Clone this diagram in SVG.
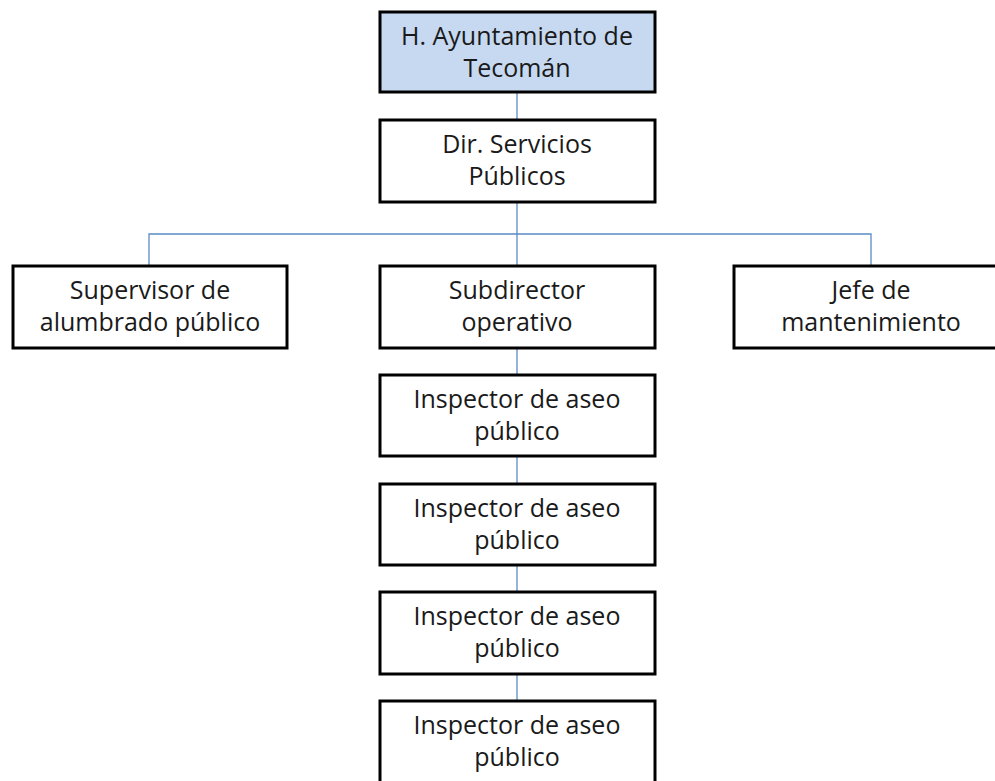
<svg xmlns="http://www.w3.org/2000/svg" width="995" height="781" viewBox="0 0 995 781">
<style>
.box{fill:#ffffff;stroke:#000000;stroke-width:3}
.top{fill:#c6d9f1}
.t{font-family:"Open Sans","Liberation Sans",sans-serif;font-size:25px;fill:#1a1a1a;text-anchor:middle}
.c{stroke:#5b8bc6;stroke-width:1.3;fill:none}
</style>
<rect width="995" height="781" fill="#ffffff"/>
<g id="connectors">
<line class="c" x1="517" y1="92" x2="517" y2="120"/>
<line class="c" x1="517" y1="202" x2="517" y2="266"/>
<polyline class="c" points="149,266 149,234 871,234 871,266"/>
<line class="c" x1="517" y1="348" x2="517" y2="375"/>
<line class="c" x1="517" y1="456" x2="517" y2="484"/>
<line class="c" x1="517" y1="565" x2="517" y2="592"/>
<line class="c" x1="517" y1="674" x2="517" y2="701"/>
</g>
<g id="n_ayuntamiento">
<rect class="box top" x="380" y="12" width="275" height="80"/>
<text class="t" x="517" y="45">H. Ayuntamiento de</text>
<text class="t" x="517" y="77">Tecomán</text>
</g>
<g id="n_dir">
<rect class="box" x="380" y="120" width="275" height="82"/>
<text class="t" x="517" y="153">Dir. Servicios</text>
<text class="t" x="517" y="185">Públicos</text>
</g>
<g id="n_supervisor">
<rect class="box" x="13" y="266" width="274" height="82"/>
<text class="t" x="150" y="299">Supervisor de</text>
<text class="t" x="150" y="331">alumbrado público</text>
</g>
<g id="n_subdirector">
<rect class="box" x="380" y="266" width="275" height="82"/>
<text class="t" x="517" y="299">Subdirector</text>
<text class="t" x="517" y="331">operativo</text>
</g>
<g id="n_jefe">
<rect class="box" x="734" y="266" width="274" height="82"/>
<text class="t" x="871" y="299">Jefe de</text>
<text class="t" x="871" y="331">mantenimiento</text>
</g>
<g id="n_inspector1">
<rect class="box" x="380" y="375" width="275" height="81"/>
<text class="t" x="517" y="408">Inspector de aseo</text>
<text class="t" x="517" y="440">público</text>
</g>
<g id="n_inspector2">
<rect class="box" x="380" y="484" width="275" height="81"/>
<text class="t" x="517" y="517">Inspector de aseo</text>
<text class="t" x="517" y="549">público</text>
</g>
<g id="n_inspector3">
<rect class="box" x="380" y="592" width="275" height="82"/>
<text class="t" x="517" y="625">Inspector de aseo</text>
<text class="t" x="517" y="657">público</text>
</g>
<g id="n_inspector4">
<rect class="box" x="380" y="701" width="275" height="82"/>
<text class="t" x="517" y="734">Inspector de aseo</text>
<text class="t" x="517" y="766">público</text>
</g>
</svg>
